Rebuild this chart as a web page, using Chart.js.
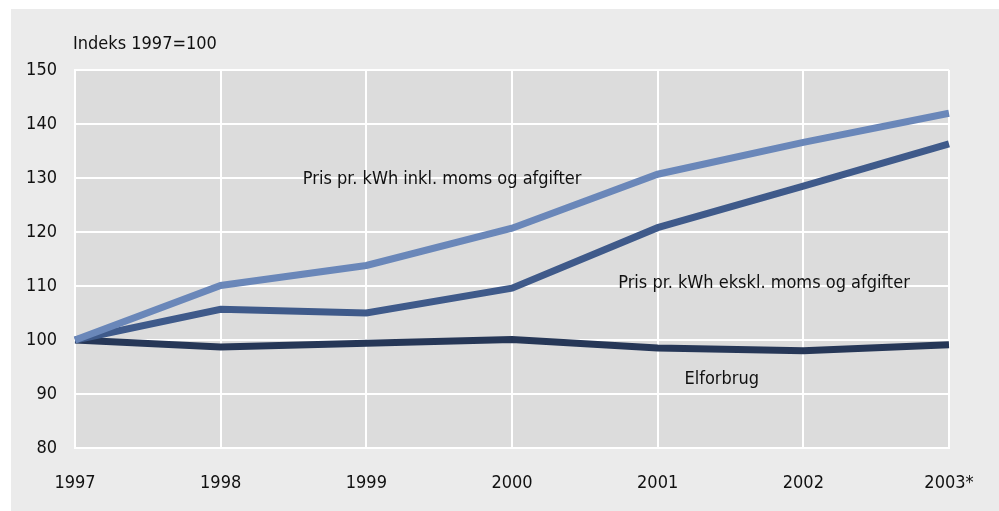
<!DOCTYPE html>
<html>
<head>
<meta charset="utf-8">
<script src="https://cdn.jsdelivr.net/npm/chart.js@4/dist/chart.umd.min.js"></script>
<style>
  html, body { margin: 0; padding: 0; background: #fff; }
  #wrap { width: 999px; height: 511px; position: relative; }
</style>
</head>
<body>
<div id="wrap"><canvas id="chart" width="999" height="511"></canvas></div>
<script>
// Elpris og elforbrug, indeks 1997=100

const years = ['1997', '1998', '1999', '2000', '2001', '2002', '2003*'];
const prisInkl = [100, 110.1, 113.8, 120.7, 130.7, 136.6, 142.0];
const prisEkskl = [100, 105.7, 105.0, 109.6, 120.8, 128.5, 136.3];
const elforbrug = [100, 98.7, 99.4, 100.1, 98.5, 98.0, 99.1];

const FONT = '"DejaVu Sans Condensed", "DejaVu Sans", sans-serif';
const FSIZE = 18;

const backdrop = {
    id: 'backdrop',
    beforeDraw(chart) {
        const { ctx, chartArea: a } = chart;
        ctx.save();
        ctx.fillStyle = '#ebebeb';
        ctx.fillRect(11, 9, chart.width - 11, chart.height - 9);
        ctx.fillStyle = '#dcdcdc';
        ctx.fillRect(a.left, a.top, a.right - a.left, a.bottom - a.top);
        ctx.restore();
    }
};

// line labels, placed by data coordinates
const notes = [
    { text: 'Pris pr. kWh inkl. moms og afgifter', x: 2.52, y: 129.8 },
    { text: 'Pris pr. kWh ekskl. moms og afgifter', x: 4.73, y: 110.5 },
    { text: 'Elforbrug', x: 4.44, y: 92.7 },
];

const labels = {
    id: 'labels',
    afterDatasetsDraw(chart) {
        const { ctx, scales: { x, y } } = chart;
        ctx.save();
        ctx.fillStyle = '#111';
        ctx.font = FSIZE + 'px ' + FONT;
        ctx.textAlign = 'center';
        ctx.textBaseline = 'middle';
        notes.forEach(n => {
            ctx.fillText(n.text, x.getPixelForValue(n.x), y.getPixelForValue(n.y));
        });
        ctx.textAlign = 'left';
        ctx.fillText('Indeks 1997=100', 73, 44);
        ctx.restore();
    }
};

new Chart(document.getElementById('chart'), {
    type: 'line',
    data: {
        labels: years,
        datasets: [
            { data: prisInkl, borderColor: '#6a87b9' },
            { data: prisEkskl, borderColor: '#3f5a8a' },
            { data: elforbrug, borderColor: '#263757' },
        ]
    },
    options: {
        responsive: false,
        animation: false,
        layout: { padding: { top: 70, right: 50, left: 0, bottom: 0 } },
        elements: {
            line: { borderWidth: 7, tension: 0, borderJoinStyle: 'miter', borderCapStyle: 'butt' },
            point: { radius: 0 }
        },
        plugins: { legend: { display: false }, tooltip: { enabled: false } },
        scales: {
            x: {
                offset: false,
                grid: { color: '#ffffff', lineWidth: 2, tickLength: 0, drawTicks: false },
                border: { color: '#ffffff', width: 2 },
                ticks: { color: '#111', font: { family: FONT, size: FSIZE }, padding: 25, maxRotation: 0 },
                afterFit(s) {
                    s.height = 63;
                    s.paddingRight = 0;
                },
                beforeFit(s) { }
            },
            y: {
                min: 80, max: 150,
                grid: { color: '#ffffff', lineWidth: 2, drawTicks: false },
                border: { color: '#ffffff', width: 2 },
                ticks: { stepSize: 10, color: '#111', font: { family: FONT, size: FSIZE }, padding: 18 },
                afterFit(s) { s.width = 75; s.paddingTop = 0; s.paddingBottom = 0; }
            }
        }
    },
    plugins: [backdrop, labels]
});
</script>
</body>
</html>
